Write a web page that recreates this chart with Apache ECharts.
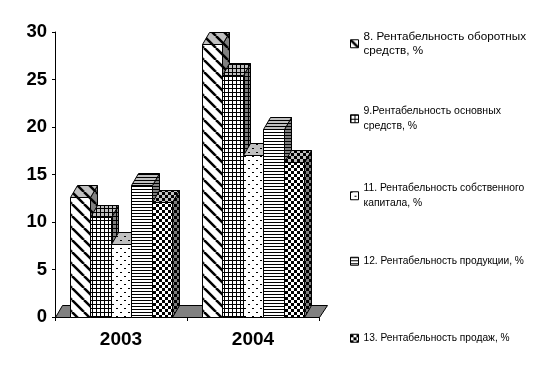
<!DOCTYPE html>
<html>
<head>
<meta charset="utf-8">
<style>html,body{margin:0;padding:0;background:#fff}#main{width:542px;height:373px}</style>
<script src="https://cdn.jsdelivr.net/npm/echarts@6/dist/echarts.min.js"></script>
</head>
<body>
<div id="main"></div>
<script>
var years = ['2003', '2004'];
var names = [
    '8. Рентабельность оборотных\nсредств, %',
    '9.Рентабельность основных\nсредств, %',
    '11. Рентабельность собственного\nкапитала, %',
    '12. Рентабельность продукции, %',
    '13. Рентабельность продаж, %'
];
var oborot = [12.6, 28.7];
var osnov = [10.5, 25.5];
var kapital = [7.7, 17.1];
var produkt = [13.9, 19.8];
var prodazh = [12.1, 16.3];
var values = [oborot, osnov, kapital, produkt, prodazh];
var kinds = ['diag', 'grid', 'dots', 'hline', 'check'];
var legendTops = [22, 97, 174, 254, 331];
var legendSizes = [11.7, 10.5, 10.3, 10.2, 10.2];

var depthX = 7, depthY = 12;

// tile for hatch fills, same fills as old excel b/w charts
function tile(kind, bg, fg) {
    var sizes = { diag: 12, grid: 4, dots: 8, hline: 3, check: 6 };
    var s = sizes[kind];
    var c = document.createElement('canvas');
    c.width = s;
    c.height = s;
    var g = c.getContext('2d');
    g.fillStyle = bg;
    g.fillRect(0, 0, s, s);
    g.fillStyle = fg;
    g.strokeStyle = fg;
    if (kind === 'diag') {
        g.lineWidth = 2.5;
        for (var i = -s; i <= s; i += s) {
            g.beginPath();
            g.moveTo(i, 0);
            g.lineTo(i + s, s);
            g.stroke();
        }
    } else if (kind === 'grid') {
        g.fillRect(0, 0, s, 1);
        g.fillRect(0, 0, 1, s);
    } else if (kind === 'dots') {
        g.fillRect(0, 0, 2, 1);
        g.fillRect(4, 4, 2, 1);
    } else if (kind === 'hline') {
        g.fillRect(0, 0, s, 1);
    } else {
        g.fillRect(0, 0, 3, 3);
        g.fillRect(3, 3, 3, 3);
    }
    return { image: c, repeat: 'repeat' };
}

function renderBar(params, api) {
    var si = params.seriesIndex - 1;
    var base = api.coord([api.value(0), 0]);
    var top = api.coord([api.value(0), api.value(1)]);
    var band = api.size([1, 0])[0];
    var w = band * 0.155;
    var x0 = Math.round(base[0] + (si - 2.5) * w) + 0.5;
    var x1 = Math.round(base[0] + (si - 1.5) * w) + 0.5;
    var y0 = Math.round(base[1]) + 0.5;
    var y1 = Math.round(top[1]) + 0.5;
    var k = kinds[si];
    function face(points, fill) {
        return {
            type: 'polygon',
            shape: { points: points },
            style: { fill: fill, stroke: '#000', lineWidth: 1 }
        };
    }
    return {
        type: 'group',
        children: [
            face([[x1, y1], [x1 + depthX, y1 - depthY], [x1 + depthX, y0 - depthY], [x1, y0]], tile(k, '#808080', '#000')),
            face([[x0, y1], [x0 + depthX, y1 - depthY], [x1 + depthX, y1 - depthY], [x1, y1]], tile(k, '#c0c0c0', '#000')),
            face([[x0, y0], [x0, y1], [x1, y1], [x1, y0]], tile(k, '#fff', '#000'))
        ]
    };
}

function renderFloor(params, api) {
    var cs = params.coordSys;
    var y = cs.y + cs.height + 0.5;
    var x0 = cs.x + 0.5, x1 = cs.x + cs.width + 0.5;
    return {
        type: 'polygon',
        shape: { points: [[x0, y], [x0 + depthX, y - depthY], [x1 + depthX + 1, y - depthY], [x1, y]] },
        style: { fill: '#808080', stroke: '#000', lineWidth: 1 }
    };
}

var series = [{
    type: 'custom',
    name: 'floor',
    renderItem: renderFloor,
    data: [[0, 0]],
    silent: true
}];
var legends = [];
names.forEach(function (n, i) {
    series.push({
        type: 'custom',
        name: n,
        renderItem: renderBar,
        encode: { x: 0, y: 1 },
        data: values[i].map(function (v, j) { return [j, v]; }),
        itemStyle: { color: '#000' }
    });
    legends.push({
        data: [n],
        left: 350,
        top: legendTops[i],
        padding: 0,
        itemWidth: 8,
        itemHeight: 8,
        selectedMode: false,
        icon: 'rect',
        itemStyle: { color: tile(kinds[i], '#fff', '#000'), borderColor: '#000', borderWidth: 1 },
        textStyle: {
            fontFamily: 'Liberation Sans',
            fontSize: legendSizes[i],
            color: '#000',
            lineHeight: 14.5,
            padding: n.indexOf('\n') >= 0 ? [14.5, 0, 0, 0] : 0
        }
    });
});

var chart = echarts.init(document.getElementById('main'));
chart.setOption({
    animation: false,
    backgroundColor: '#fff',
    legend: legends,
    grid: { left: 55, top: 32, width: 264, height: 285 },
    xAxis: {
        type: 'category',
        data: years,
        axisLine: { onZero: false, lineStyle: { color: '#000', width: 1 } },
        axisTick: { show: true, length: 4, lineStyle: { color: '#000' } },
        axisLabel: { color: '#000', fontFamily: 'Liberation Sans', fontWeight: 'bold', fontSize: 19, margin: 13 }
    },
    yAxis: {
        type: 'value',
        min: 0,
        max: 30,
        interval: 5,
        splitLine: { show: false },
        axisLine: { show: true, lineStyle: { color: '#000', width: 1 } },
        axisTick: { show: true, length: 3, lineStyle: { color: '#000' } },
        axisLabel: { color: '#000', fontFamily: 'Liberation Sans', fontWeight: 'bold', fontSize: 18.5, margin: 8 }
    },
    series: series
});
</script>
</body>
</html>
